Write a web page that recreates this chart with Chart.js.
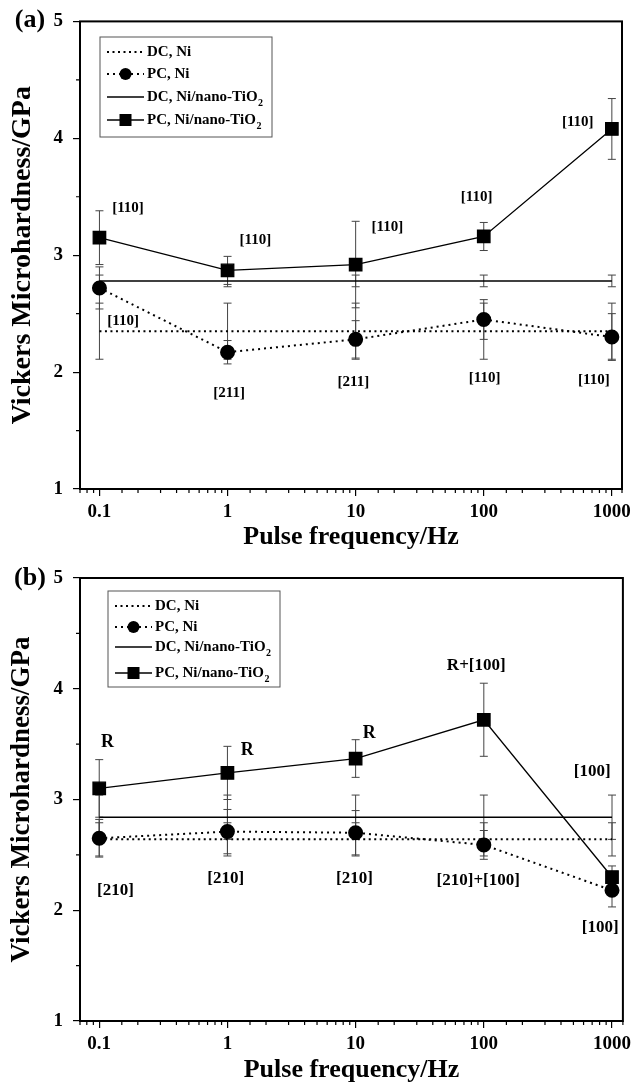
<!DOCTYPE html>
<html>
<head>
<meta charset="utf-8">
<script src="https://cdn.jsdelivr.net/npm/chart.js@4.4.0/dist/chart.umd.min.js"></script>
<style>
  html, body { margin: 0; padding: 0; background: #fff; }
  #chartA { position: absolute; left: 0; top: 0; }
  #chartB { position: absolute; left: 0; top: 556px; }
</style>
</head>
<body>
<canvas id="chartA" width="633" height="556"></canvas>
<canvas id="chartB" width="633" height="530"></canvas>
<script>
// pulse frequencies (Hz)
const freq = [0.1, 1, 10, 100, 1000];
const yTicks = [1, 2, 3, 4, 5];
const xTickLabels = [0.1, 1, 10, 100, 1000];

// panel (a)
const dcNiA = [2.35, 2.35, 2.35, 2.35, 2.35];
const dcNiErrA = [0.24, 0.24, 0.24, 0.24, 0.24];
const pcNiA = [2.72, 2.17, 2.28, 2.45, 2.30];
const pcNiErrA = [0.18, 0.10, 0.16, 0.17, 0.20];
const dcTiA = [2.78, 2.78, 2.78, 2.78, 2.78];
const dcTiErrA = [0.05, 0.05, 0.05, 0.05, 0.05];
const pcTiA = [3.15, 2.87, 2.92, 3.16, 4.08];
const pcTiErrA = [0.23, 0.12, 0.37, 0.12, 0.26];

// panel (b)
const dcNiB = [2.64, 2.64, 2.64, 2.64, 2.64];
const dcNiErrB = [0.15, 0.15, 0.15, 0.15, 0.15];
const pcNiB = [2.65, 2.71, 2.70, 2.59, 2.18];
const pcNiErrB = [0.17, 0.20, 0.20, 0.13, 0.15];
const dcTiB = [2.84, 2.84, 2.84, 2.84, 2.84];
const dcTiErrB = [0.20, 0.20, 0.20, 0.20, 0.20];
const pcTiB = [3.10, 3.24, 3.37, 3.72, 2.30];
const pcTiErrB = [0.26, 0.24, 0.17, 0.33, 0.10];

// texture labels (text, frequency, hardness)
const notesA = [
  ['[110]', 0.167, 3.40], ['[110]', 1.65, 3.13], ['[110]', 17.7, 3.24],
  ['[110]', 88, 3.50], ['[110]', 542, 4.14], ['[110]', 0.153, 2.44],
  ['[211]', 1.03, 1.82], ['[211]', 9.6, 1.915], ['[110]', 101.7, 1.95],
  ['[110]', 723, 1.93]
];
const notesB = [
  ['R', 0.116, 3.52], ['R', 1.43, 3.445], ['R', 12.8, 3.60],
  ['R+[100]', 87.3, 4.21], ['[100]', 700, 3.25], ['[100]', 808, 1.84],
  ['[210]', 0.134, 2.18], ['[210]', 0.97, 2.29], ['[210]', 9.8, 2.29],
  ['[210]+[100]', 90.5, 2.27]
];

const FONT = 'Liberation Serif';

function pts(vals) {
  return vals.map((v, i) => ({ x: freq[i], y: v }));
}

function isMajorX(v) {
  return xTickLabels.some(t => Math.abs(t - v) < t * 1e-6);
}

function drawLabelText(ctx, label, x, y) {
  // TiO2 with subscript 2
  if (label.endsWith('TiO2')) {
    const main = label.slice(0, -1);
    ctx.fillText(main, x, y);
    const w = ctx.measureText(main).width;
    const f = ctx.font;
    ctx.font = 'bold 10px "' + FONT + '"';
    ctx.fillText('2', x + w + 0.5, y + 6);
    ctx.font = f;
  } else {
    ctx.fillText(label, x, y);
  }
}

const decor = {
  id: 'decor',
  beforeDatasetsDraw(chart) {
    const { ctx, scales: { x, y } } = chart;
    ctx.save();
    ctx.strokeStyle = '#444';
    ctx.lineWidth = 1;
    chart.data.datasets.forEach(ds => {
      ds.data.forEach((p, i) => {
        const px = x.getPixelForValue(p.x);
        const e = ds.errors[i];
        const y1 = y.getPixelForValue(p.y + e);
        const y2 = y.getPixelForValue(p.y - e);
        ctx.beginPath();
        ctx.moveTo(px, y1); ctx.lineTo(px, y2);
        ctx.moveTo(px - 4, y1); ctx.lineTo(px + 4, y1);
        ctx.moveTo(px - 4, y2); ctx.lineTo(px + 4, y2);
        ctx.stroke();
      });
    });
    ctx.restore();
  },
  afterDraw(chart, args, opts) {
    const { ctx, chartArea: a, scales: { x, y } } = chart;
    ctx.save();
    // frame
    ctx.strokeStyle = '#000';
    ctx.lineWidth = 2;
    ctx.strokeRect(a.left, a.top, a.right - a.left, a.bottom - a.top);

    // short minor ticks
    ctx.lineWidth = 1.2;
    ctx.beginPath();
    x.ticks.forEach(t => {
      if (isMajorX(t.value)) return;
      const px = x.getPixelForValue(t.value);
      ctx.moveTo(px, a.bottom); ctx.lineTo(px, a.bottom + 4);
    });
    y.ticks.forEach(t => {
      if (yTicks.includes(t.value)) return;
      const py = y.getPixelForValue(t.value);
      ctx.moveTo(a.left, py); ctx.lineTo(a.left - 4, py);
    });
    ctx.stroke();

    // texture notes
    ctx.fillStyle = '#000';
    ctx.textAlign = 'center';
    ctx.textBaseline = 'middle';
    opts.notes.forEach(n => {
      ctx.font = 'bold ' + (n[0] === 'R' ? opts.rSize : opts.noteSize) + 'px "' + FONT + '"';
      ctx.fillText(n[0], x.getPixelForValue(n[1]), y.getPixelForValue(n[2]));
    });

    // panel tag
    ctx.font = 'bold 26px "' + FONT + '"';
    ctx.fillText(opts.tag, 30, opts.tagY);

    // legend
    const L = opts.legend;
    ctx.strokeStyle = '#555';
    ctx.lineWidth = 1;
    ctx.strokeRect(L.x, L.y, L.w, L.h);
    ctx.textAlign = 'left';
    ctx.font = 'bold 15px "' + FONT + '"';
    chart.data.datasets.forEach((ds, i) => {
      const ly = L.rows[i];
      ctx.save();
      ctx.strokeStyle = '#000';
      ctx.lineWidth = ds.borderWidth;
      ctx.setLineDash(ds.borderDash || []);
      ctx.beginPath();
      ctx.moveTo(L.x1, ly); ctx.lineTo(L.x2, ly);
      ctx.stroke();
      ctx.restore();
      const cx = (L.x1 + L.x2) / 2;
      if (ds.pointStyle === 'circle' && ds.pointRadius > 0) {
        ctx.beginPath();
        ctx.arc(cx, ly, 6, 0, Math.PI * 2);
        ctx.fill();
      } else if (ds.pointStyle === 'rect' && ds.pointRadius > 0) {
        ctx.fillRect(cx - 6, ly - 6, 12, 12);
      }
      drawLabelText(ctx, ds.label, L.x2 + 3, ly);
    });
    ctx.restore();
  }
};

function makeChart(id, sets, opts) {
  const [dcNi, dcNiErr, pcNi, pcNiErr, dcTi, dcTiErr, pcTi, pcTiErr] = sets;
  return new Chart(document.getElementById(id), {
    type: 'line',
    data: {
      datasets: [
        { label: 'DC, Ni', data: pts(dcNi), errors: dcNiErr,
          borderColor: '#000', borderWidth: 2, borderDash: [2, 3.5],
          pointRadius: 0, pointStyle: 'circle' },
        { label: 'PC, Ni', data: pts(pcNi), errors: pcNiErr,
          borderColor: '#000', borderWidth: 2, borderDash: [2, 4],
          pointStyle: 'circle', pointRadius: 6.5,
          pointBackgroundColor: '#000', pointBorderColor: '#000' },
        { label: 'DC, Ni/nano-TiO2', data: pts(dcTi), errors: dcTiErr,
          borderColor: '#000', borderWidth: 1.5,
          pointRadius: 0, pointStyle: 'line' },
        { label: 'PC, Ni/nano-TiO2', data: pts(pcTi), errors: pcTiErr,
          borderColor: '#000', borderWidth: 1.3,
          pointStyle: 'rect', pointRadius: 8.8,
          pointBackgroundColor: '#000', pointBorderColor: '#000' }
      ]
    },
    options: {
      responsive: false,
      animation: false,
      layout: { padding: { top: opts.top, right: opts.right, left: 0, bottom: 0 } },
      plugins: {
        legend: { display: false },
        tooltip: { enabled: false },
        decor: opts.decor
      },
      scales: {
        x: {
          type: 'logarithmic',
          min: opts.xMin, max: opts.xMax,
          afterFit: s => { s.height = opts.xAxisH; },
          border: { display: false },
          grid: {
            drawOnChartArea: false, drawTicks: true, tickLength: 7, lineWidth: 1.2,
            tickColor: c => (c.tick && isMajorX(c.tick.value)) ? '#000' : 'rgba(0,0,0,0)'
          },
          ticks: {
            autoSkip: false, maxRotation: 0, padding: 5, color: '#000',
            font: { family: FONT, size: 19, weight: 'bold' },
            callback: v => {
              const hit = xTickLabels.find(t => Math.abs(t - v) < t * 1e-6);
              return hit !== undefined ? String(hit) : '';
            }
          },
          title: {
            display: true, text: 'Pulse frequency/Hz', color: '#000',
            font: { family: FONT, size: 26, weight: 'bold' },
            padding: { top: 0, bottom: opts.xTitlePad }
          }
        },
        y: {
          min: 1, max: 5,
          afterFit: s => { s.width = 80; },
          border: { display: false },
          grid: {
            drawOnChartArea: false, drawTicks: true, tickLength: 7, lineWidth: 1.2,
            tickColor: c => (c.tick && yTicks.includes(c.tick.value)) ? '#000' : 'rgba(0,0,0,0)'
          },
          ticks: {
            stepSize: 0.5, padding: 10, color: '#000',
            font: { family: FONT, size: 19, weight: 'bold' },
            callback: v => yTicks.includes(v) ? String(v) : ''
          },
          title: {
            display: true, text: 'Vickers Microhardness/GPa', color: '#000',
            font: { family: FONT, size: opts.yTitleSize, weight: 'bold' },
            padding: { top: 6, bottom: 0 }
          }
        }
      }
    },
    plugins: [decor]
  });
}

makeChart('chartA',
  [dcNiA, dcNiErrA, pcNiA, pcNiErrA, dcTiA, dcTiErrA, pcTiA, pcTiErrA],
  {
    top: 21, right: 11, xMin: 0.0705, xMax: 1200, xAxisH: 67, xTitlePad: 3, yTitleSize: 28,
    decor: {
      notes: notesA, noteSize: 15, rSize: 18, tag: '(a)', tagY: 20,
      legend: { x: 100, y: 37, w: 172, h: 100, x1: 107, x2: 144, rows: [52, 74, 97, 120] }
    }
  });

makeChart('chartB',
  [dcNiB, dcNiErrB, pcNiB, pcNiErrB, dcTiB, dcTiErrB, pcTiB, pcTiErrB],
  {
    top: 22, right: 5, xMin: 0.0708, xMax: 1216, xAxisH: 65, xTitlePad: 0, yTitleSize: 27,
    decor: {
      notes: notesB, noteSize: 17, rSize: 18, tag: '(b)', tagY: 22,
      legend: { x: 108, y: 35, w: 172, h: 96, x1: 115, x2: 152, rows: [50, 71, 91, 117] }
    }
  });
</script>
</body>
</html>
